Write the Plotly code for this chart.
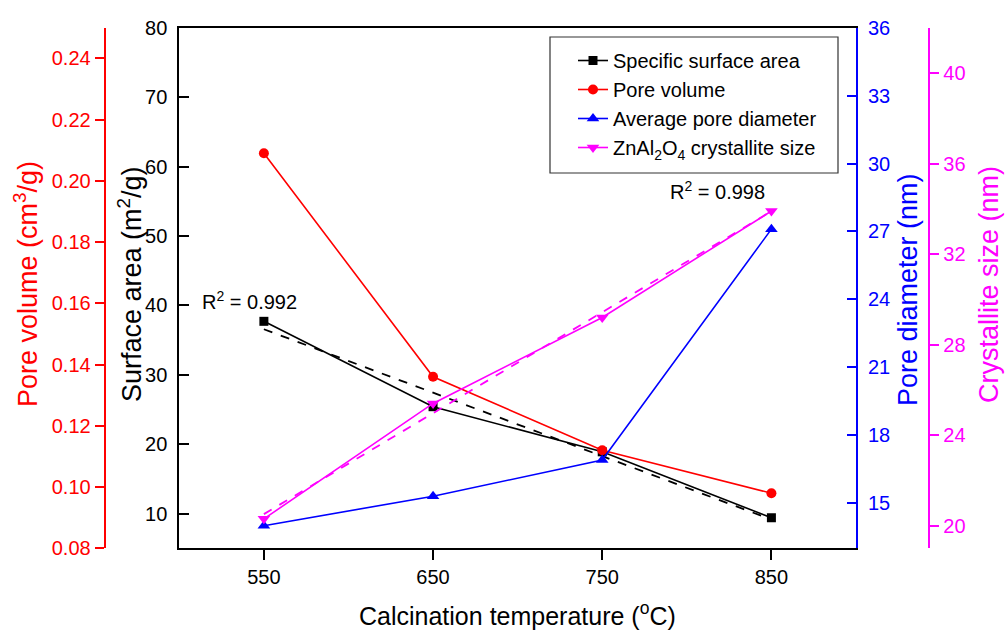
import numpy as np
import plotly.graph_objects as go

# Calcination temperature (°C) and measured properties
temperature = [550, 650, 750, 850]
surface_area = [37.7, 25.4, 18.9, 9.4]        # m2/g
pore_volume = [0.209, 0.136, 0.112, 0.098]    # cm3/g
pore_diameter = [14.0, 15.3, 16.9, 27.1]      # nm
crystallite_size = [20.3, 25.4, 29.2, 33.9]   # nm

r2_surface_label = "0.992"
r2_crystallite_label = "0.998"

# Tick values for each axis
x_ticks = [550, 650, 750, 850]
sa_ticks = [10, 20, 30, 40, 50, 60, 70, 80]
pv_ticks = [0.08, 0.10, 0.12, 0.14, 0.16, 0.18, 0.20, 0.22, 0.24]
pd_ticks = [15, 18, 21, 24, 27, 30, 33, 36]
cs_ticks = [20, 24, 28, 32, 36, 40]

# Canvas geometry (pixels)
W, H = 1005, 631
PLOT_L, PLOT_R, PLOT_T, PLOT_B = 179.3, 856.0, 27.7, 548.3
RED_AXIS_X = 104.7
MAG_AXIS_X = 929.3
LEGEND_BOX = (550, 838, 37, 173)   # left, right, top, bottom


def px(x):
    return x / W


def py(y):
    return (H - y) / H


FONT = "Arial, Liberation Sans, sans-serif"
RED, BLUE, MAGENTA = "#FF0000", "#0000FF", "#FF00FF"

# Linear trend lines
sa_fit = np.poly1d(np.polyfit(temperature, surface_area, 1))
cs_fit = np.poly1d(np.polyfit(temperature, crystallite_size, 1))
fit_x = [temperature[0], temperature[-1]]

fig = go.Figure()

fig.add_trace(go.Scatter(
    x=temperature, y=surface_area, name="Specific surface area",
    mode="lines+markers", yaxis="y",
    line=dict(color="black", width=1.6),
    marker=dict(symbol="square", size=9, color="black"),
))
fig.add_trace(go.Scatter(
    x=temperature, y=pore_volume, name="Pore volume",
    mode="lines+markers", yaxis="y2",
    line=dict(color=RED, width=1.6),
    marker=dict(symbol="circle", size=10, color=RED),
))
fig.add_trace(go.Scatter(
    x=temperature, y=pore_diameter, name="Average pore diameter",
    mode="lines+markers", yaxis="y3",
    line=dict(color=BLUE, width=1.6),
    marker=dict(symbol="triangle-up", size=11, color=BLUE),
))
fig.add_trace(go.Scatter(
    x=temperature, y=crystallite_size,
    name="ZnAl<sub>2</sub>O<sub>4</sub> crystallite size",
    mode="lines+markers", yaxis="y4",
    line=dict(color=MAGENTA, width=1.6),
    marker=dict(symbol="triangle-down", size=11, color=MAGENTA),
))
fig.add_trace(go.Scatter(
    x=fit_x, y=sa_fit(fit_x), mode="lines", yaxis="y", showlegend=False,
    line=dict(color="black", width=1.8, dash="dash"), hoverinfo="skip",
))
fig.add_trace(go.Scatter(
    x=fit_x, y=cs_fit(fit_x), mode="lines", yaxis="y4", showlegend=False,
    line=dict(color=MAGENTA, width=1.8, dash="dash"), hoverinfo="skip",
))

tickfont = dict(family=FONT, size=20)

fig.update_layout(
    template="none",
    width=W, height=H,
    margin=dict(l=0, r=0, t=0, b=0, autoexpand=False),
    paper_bgcolor="white", plot_bgcolor="white",
    font=dict(family=FONT, size=20, color="black"),
    showlegend=True,
    legend=dict(
        x=px(573), y=py(41), xanchor="left", yanchor="top",
        bgcolor="rgba(0,0,0,0)", borderwidth=0,
        font=dict(family=FONT, size=20, color="black"),
        tracegroupgap=0,
    ),
    xaxis=dict(
        domain=[px(PLOT_L), px(PLOT_R)], range=[500, 900], automargin=False,
        tickvals=x_ticks, ticks="outside", ticklen=10, tickwidth=2,
        tickcolor="black", showline=True, linewidth=2, linecolor="black",
        mirror=True, showgrid=False, zeroline=False,
        tickfont=dict(tickfont, color="black"),
    ),
    yaxis=dict(
        domain=[py(PLOT_B), py(PLOT_T)], range=[5, 80], automargin=False,
        tickvals=sa_ticks, ticks="inside", ticklen=10, tickwidth=2,
        tickcolor="black", showline=True, linewidth=2, linecolor="black",
        showgrid=False, zeroline=False, ticklabelstandoff=6,
        tickfont=dict(tickfont, color="black"),
    ),
    yaxis2=dict(
        overlaying="y", anchor="free", position=px(RED_AXIS_X), side="left",
        range=[0.08, 0.25], tickvals=pv_ticks, tickformat=".2f",
        automargin=False,
        ticks="outside", ticklen=9, tickwidth=2, tickcolor=RED,
        showline=True, linewidth=2, linecolor=RED,
        showgrid=False, zeroline=False,
        tickfont=dict(tickfont, color=RED),
    ),
    yaxis3=dict(
        overlaying="y", anchor="x", side="right", automargin=False,
        range=[13, 36], tickvals=pd_ticks,
        ticks="inside", ticklen=9, tickwidth=2, tickcolor=BLUE,
        showline=True, linewidth=2, linecolor=BLUE,
        showgrid=False, zeroline=False, ticklabelstandoff=6,
        tickfont=dict(tickfont, color=BLUE),
    ),
    yaxis4=dict(
        overlaying="y", anchor="free", position=px(MAG_AXIS_X), side="right",
        range=[19, 42], tickvals=cs_ticks, automargin=False,
        ticks="outside", ticklen=9, tickwidth=2, tickcolor=MAGENTA,
        showline=True, linewidth=2, linecolor=MAGENTA,
        showgrid=False, zeroline=False,
        tickfont=dict(tickfont, color=MAGENTA),
    ),
)

# Legend frame
lb_l, lb_r, lb_t, lb_b = LEGEND_BOX
fig.add_shape(
    type="rect", xref="paper", yref="paper", layer="below",
    x0=px(lb_l), x1=px(lb_r), y0=py(lb_b), y1=py(lb_t),
    line=dict(color="#333333", width=1.2), fillcolor="white",
)

x_title_size = 25
y_title_size = 27
annotations = [
    dict(text="Calcination temperature (<sup>o</sup>C)", x=px((PLOT_L + PLOT_R) / 2),
         y=py(614), font=dict(size=x_title_size, color="black")),
    dict(text="Pore volume (cm<sup>3</sup>/g)", x=px(26), y=py(284),
         textangle=-90, font=dict(size=y_title_size, color=RED)),
    dict(text="Surface area (m<sup>2</sup>/g)", x=px(130), y=py(284),
         textangle=-90, font=dict(size=y_title_size, color="black")),
    dict(text="Pore diameter (nm)", x=px(908), y=py(290),
         textangle=-90, font=dict(size=y_title_size, color=BLUE)),
    dict(text="Crystallite size (nm)", x=px(989), y=py(285),
         textangle=-90, font=dict(size=y_title_size, color=MAGENTA)),
    dict(text="R<sup>2</sup> = " + r2_surface_label, x=px(249), y=py(300),
         font=dict(size=20, color="black")),
    dict(text="R<sup>2</sup> = " + r2_crystallite_label, x=px(717), y=py(190),
         font=dict(size=20, color="black")),
]
for a in annotations:
    a.update(xref="paper", yref="paper", xanchor="center", yanchor="middle",
             showarrow=False)
    a["font"]["family"] = FONT
fig.update_layout(annotations=annotations)

fig.write_html("out.html")
